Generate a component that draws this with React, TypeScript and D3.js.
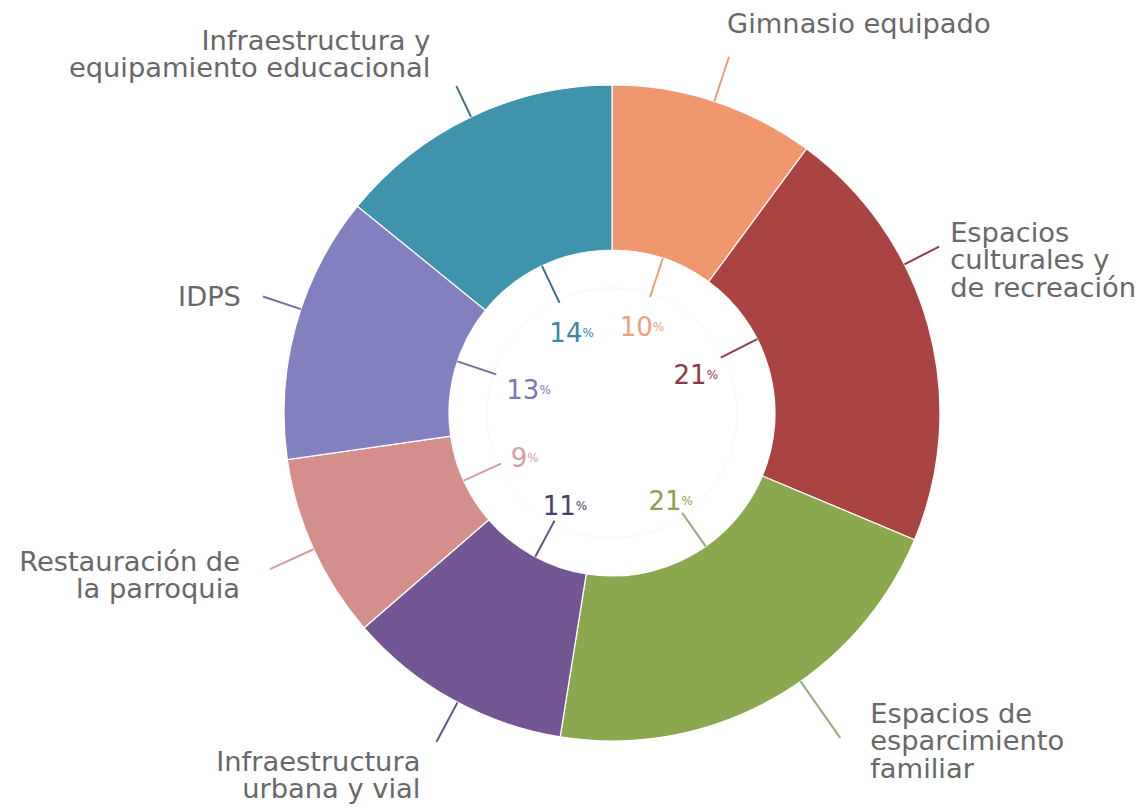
import * as d3 from 'd3';

const categories = [
  'Gimnasio equipado',
  'Espacios culturales y de recreación',
  'Espacios de esparcimiento familiar',
  'Infraestructura urbana y vial',
  'Restauración de la parroquia',
  'IDPS',
  'Infraestructura y equipamiento educacional',
];
const values = [10, 21, 21, 11, 9, 13, 14];
const labelLines = [
  ['Gimnasio equipado'],
  ['Espacios', 'culturales y', 'de recreación'],
  ['Espacios de', 'esparcimiento', 'familiar'],
  ['Infraestructura', 'urbana y vial'],
  ['Restauración de', 'la parroquia'],
  ['IDPS'],
  ['Infraestructura y', 'equipamiento educacional'],
];

const sliceColors = ['#F0976D', '#A94442', '#8BA84E', '#735794', '#D48F8C', '#8280BE', '#3F93AD'];
const lineColors = ['#E8A07E', '#8E3F45', '#9AAA7C', '#5F5482', '#D49CA2', '#6E6EA8', '#3F6E86'];
const pctColors = ['#F0A07E', '#8E3A44', '#8AA050', '#4A3E6A', '#D99CA6', '#7A78B8', '#3A86A8'];

// label placement tweaks: angle nudge (deg), outer leader length, text block offset
const labelNudge = [0, -11.5, -6, -1, 0, 3, 0];
const outerLen = [375, 367, 397, 373, 376, 368, 362];
const textOffset: [number, number][] = [
  [-2, -33], [11, 13], [30, 3], [-16, 33], [-30, 6], [-22, 0], [-26, -32],
];
const pctRadius = [96, 94, 102, 100, 96, 88, 94];

const W = 1143;
const H = 808;
const cx = 612;
const cy = 413;
const rOuter = 328;
const rInner = 163;

export default function App() {
  const pie = d3.pie<number>().sort(null).value(d => d);
  const arcs = pie(values);
  const arc = d3.arc<d3.PieArcDatum<number>>().innerRadius(rInner).outerRadius(rOuter);
  const font = '"DejaVu Sans", Verdana, sans-serif';

  const pt = (ang: number, r: number) => [r * Math.sin(ang), -r * Math.cos(ang)];

  return (
    <svg width={W} height={H} style={{ position: 'absolute', left: 0, top: 0, background: '#fff' }}>
      <g transform={`translate(${cx},${cy})`}>
        {arcs.map((a, i) => (
          <path key={categories[i]} d={arc(a) || ''} fill={sliceColors[i]} stroke="#fff" strokeWidth={1.2} />
        ))}
        <circle r={125} fill="none" stroke="#e4e4ea" strokeWidth={1} strokeDasharray="1 2" />
        {arcs.map((a, i) => {
          const ang = (a.startAngle + a.endAngle) / 2 + (labelNudge[i] * Math.PI) / 180;
          const [x1, y1] = pt(ang, rOuter);
          const [x2, y2] = pt(ang, outerLen[i]);
          const [ix1, iy1] = pt(ang, rInner);
          const [ix2, iy2] = pt(ang, 122);
          const [tx, ty] = pt(ang, pctRadius[i]);
          const right = Math.sin(ang) > 0;
          const lines = labelLines[i];
          const lh = 27.5;
          const bx = x2 + textOffset[i][0];
          const by = y2 + textOffset[i][1];
          return (
            <g key={'lbl' + i}>
              <line x1={x1} y1={y1} x2={x2} y2={y2} stroke={lineColors[i]} strokeWidth={2} />
              <line x1={ix1} y1={iy1} x2={ix2} y2={iy2} stroke={lineColors[i]} strokeWidth={2} />
              <text
                textAnchor={right ? 'start' : 'end'}
                fontFamily={font}
                fontSize={27.3}
                fill="#686868"
              >
                {lines.map((l, j) => (
                  <tspan key={j} x={bx} y={by + (j - (lines.length - 1) / 2) * lh} dominantBaseline="central">
                    {l}
                  </tspan>
                ))}
              </text>
              <text
                x={tx}
                y={ty + 5}
                textAnchor="middle"
                dominantBaseline="central"
                fontFamily={font}
                fill={pctColors[i]}
              >
                <tspan fontSize={26}>{values[i]}</tspan>
                <tspan fontSize={12}>%</tspan>
              </text>
            </g>
          );
        })}
      </g>
    </svg>
  );
}
